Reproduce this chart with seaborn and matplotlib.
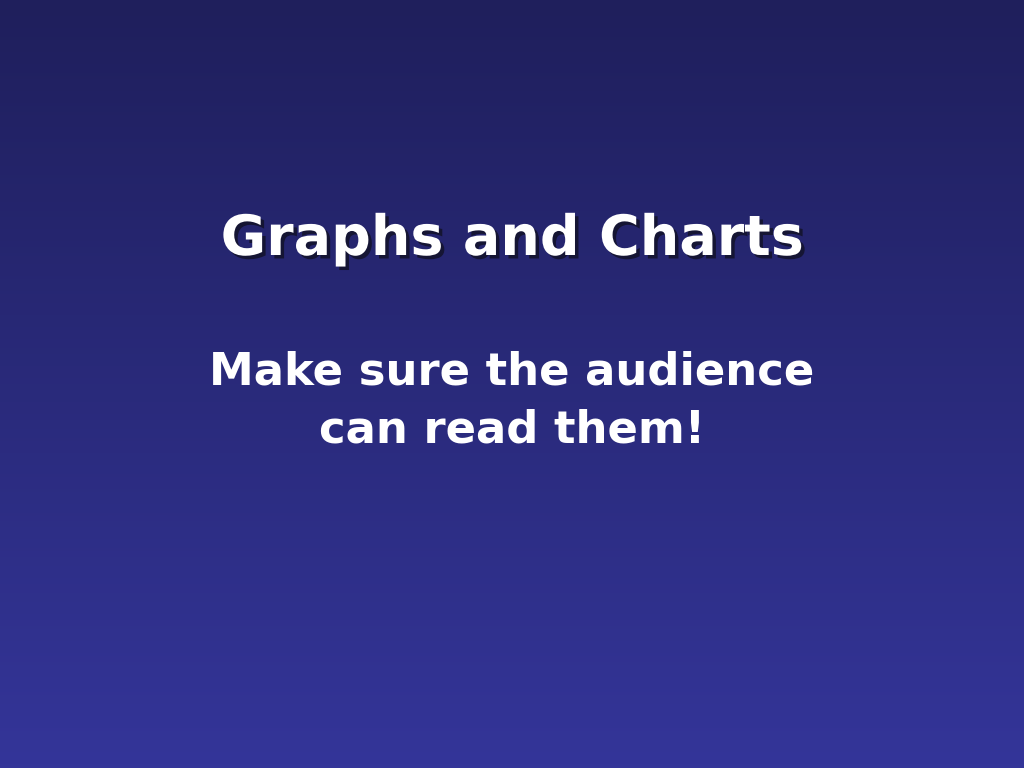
import numpy as np
import matplotlib
matplotlib.use("Agg")
import matplotlib.pyplot as plt
import matplotlib.patheffects as pe
from matplotlib.colors import LinearSegmentedColormap
import seaborn as sns

# Slide content
title_text = "Graphs and Charts"
subtitle_lines = ["Make sure the audience", "can read them!"]
bg_top = "#1f1f5c"
bg_bottom = "#343599"

sns.set_theme(style="white")
plt.rcParams['font.family'] = ['DejaVu Sans']

fig = plt.figure(figsize=(10.24, 7.68), dpi=100)
ax = fig.add_axes([0, 0, 1, 1])
cmap = LinearSegmentedColormap.from_list("bg", [bg_bottom, bg_top])
grad = np.linspace(0, 1, 256).reshape(-1, 1)
ax.imshow(grad, aspect="auto", cmap=cmap, origin="lower",
          extent=[0, 1, 0, 1], interpolation="bicubic")
ax.set_xlim(0, 1)
ax.set_ylim(0, 1)
ax.axis("off")

ax.text(0.5, 1 - 240 / 768, title_text, ha="center", va="center",
        fontsize=40, fontweight="bold", color="white",
        path_effects=[pe.withSimplePatchShadow(offset=(2.5, -2.5), shadow_rgbFace="#101020", alpha=0.75)])

ax.text(0.5, 1 - 372 / 768, subtitle_lines[0], ha="center", va="center",
        fontsize=32.4, fontweight="bold", color="white")
ax.text(0.5, 1 - 430 / 768, subtitle_lines[1], ha="center", va="center",
        fontsize=32.4, fontweight="bold", color="white")

fig.savefig("out.png", dpi=100)
